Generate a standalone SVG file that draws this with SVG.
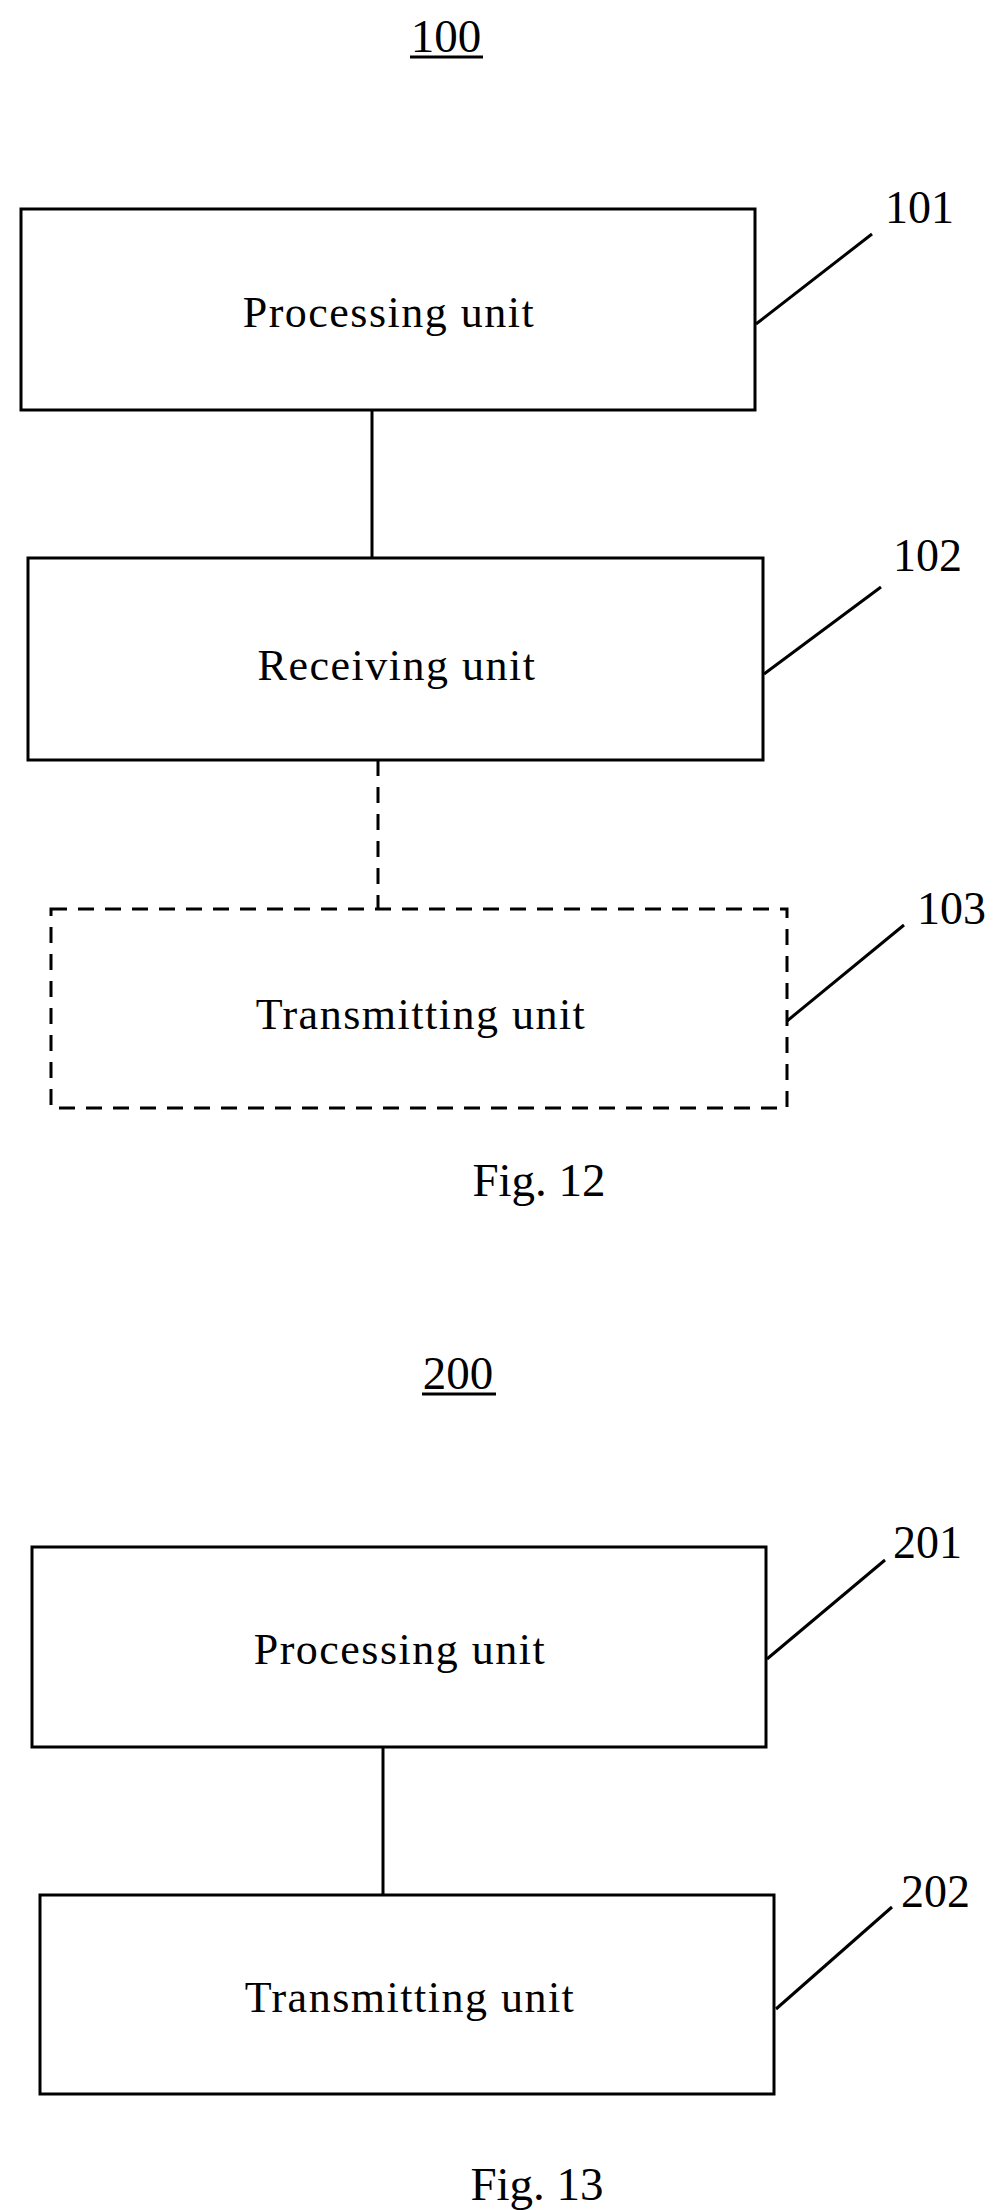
<svg xmlns="http://www.w3.org/2000/svg" width="1003" height="2210" viewBox="0 0 1003 2210">
<style>
.box{fill:none;stroke:#000;stroke-width:3}
.dash{stroke-dasharray:16,11}
.ln{stroke:#000;stroke-width:3;fill:none}
.t{font-family:"Liberation Serif",serif;font-size:44px;letter-spacing:1.5px;text-anchor:middle}
.n{font-family:"Liberation Serif",serif;font-size:46px}
.c{font-family:"Liberation Serif",serif;font-size:47px;text-anchor:middle}
</style>
<rect width="1003" height="2210" fill="#fff"/>
<text class="c" x="446" y="52">100</text>
<line class="ln" x1="410" y1="57" x2="483" y2="57" stroke-width="2"/>
<text class="c" x="458" y="1389">200</text>
<line class="ln" x1="422" y1="1394" x2="496" y2="1394" stroke-width="2"/>
<g id="connectors">
<line class="ln" x1="372" y1="410" x2="372" y2="558"/>
<line class="ln dash" x1="378" y1="760" x2="378" y2="909"/>
<line class="ln" x1="383" y1="1747" x2="383" y2="1895"/>
<line class="ln" x1="756" y1="324" x2="872" y2="234"/>
<line class="ln" x1="764" y1="674" x2="881" y2="587"/>
<line class="ln" x1="787" y1="1021" x2="904" y2="925"/>
<line class="ln" x1="767" y1="1659" x2="885" y2="1560"/>
<line class="ln" x1="776" y1="2009" x2="892" y2="1907"/>
</g>
<g id="n101"><rect class="box" x="21" y="209" width="734" height="201"/><text class="t" x="389" y="327">Processing unit</text><text class="n" x="885" y="223">101</text></g>
<g id="n102"><rect class="box" x="28" y="558" width="735" height="202"/><text class="t" x="397" y="680">Receiving unit</text><text class="n" x="893" y="571">102</text></g>
<g id="n103"><rect class="box dash" x="51" y="909" width="736" height="199"/><text class="t" x="421" y="1029">Transmitting unit</text><text class="n" x="917" y="924">103</text></g>
<text class="c" x="539" y="1196">Fig. 12</text>
<g id="n201"><rect class="box" x="32" y="1547" width="734" height="200"/><text class="t" x="400" y="1664">Processing unit</text><text class="n" x="893" y="1558">201</text></g>
<g id="n202"><rect class="box" x="40" y="1895" width="734" height="199"/><text class="t" x="410" y="2012">Transmitting unit</text><text class="n" x="901" y="1907">202</text></g>
<text class="c" x="537" y="2200">Fig. 13</text>
</svg>
